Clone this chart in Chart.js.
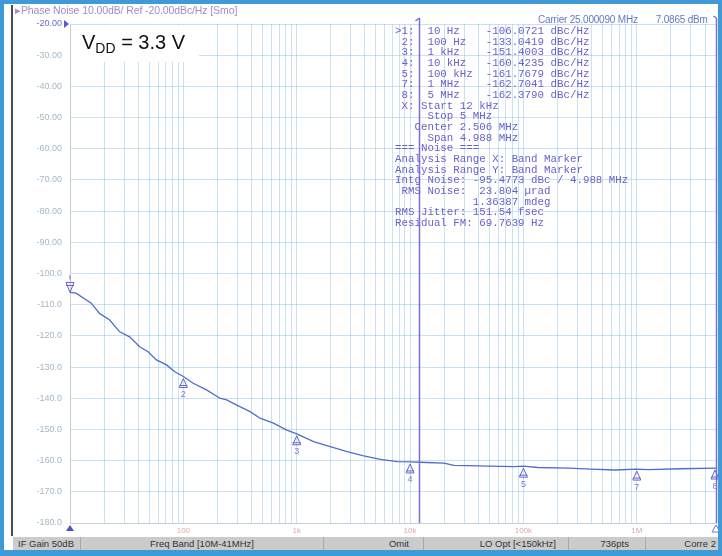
<!DOCTYPE html>
<html>
<head>
<meta charset="utf-8">
<script src="https://cdn.jsdelivr.net/npm/chart.js@4.4.1/dist/chart.umd.min.js"></script>
<style>
  body { margin: 0; width: 722px; height: 556px; position: relative; overflow: hidden; background: #fff; font-family: "Liberation Sans", Arial, sans-serif; }
  #chart { position: absolute; left: 0; top: 0; }
  #frame { position: absolute; left: 0; top: 0; width: 722px; height: 556px; box-sizing: border-box;
           border: 4px solid #3f9ad6; border-top-width: 4px; border-bottom-width: 6px; pointer-events: none; }
  #darkline { position: absolute; left: 11px; top: 5px; width: 2px; height: 531px; background: #4d4d4d; }
  #head { position: absolute; left: 15px; top: 4px; font-size: 10.5px; color: #a28cc6; white-space: pre; letter-spacing: -0.1px; }
  #carrier { position: absolute; left: 538px; top: 14px; font-size: 10px; color: #6378c8; white-space: pre; letter-spacing: -0.2px; }
  #vdd { position: absolute; left: 71px; top: 25px; width: 128px; height: 37px; background: #fff; }
  #vdd span.t { position: absolute; left: 11px; top: 6px; font-size: 20px; color: #111; white-space: nowrap; }
  #vdd sub { font-size: 14px; vertical-align: -4px; }
  #table { position: absolute; left: 395px; top: 26px; font-family: "Liberation Mono", "DejaVu Sans Mono", monospace;
           font-size: 10.8px; line-height: 10.65px; color: #6a62cc; white-space: pre; }
  #status { position: absolute; left: 13px; top: 537px; width: 705px; height: 13px; background: #cbcbcb; display: flex;
            font-size: 9.5px; color: #333; line-height: 13px; }
  #status div { border-right: 1px solid #a9a9a9; box-sizing: border-box; white-space: nowrap; overflow: hidden; }
</style>
</head>
<body>
<canvas id="chart" width="722" height="556"></canvas>
<div id="darkline"></div>
<div id="head">&#9656;Phase Noise 10.00dB/ Ref -20.00dBc/Hz [Smo]</div>
<div id="carrier">Carrier 25.000090 MHz       7.0865 dBm</div>
<div id="vdd"><span class="t">V<sub>DD</sub> = 3.3 V</span></div>
<div id="table"></div>
<div id="status">
  <div style="width:68px;padding-left:5px">IF Gain 50dB</div>
  <div style="width:243px;text-align:center;padding-left:0px">Freq Band [10M-41MHz]</div>
  <div style="width:100px;text-align:right;padding-right:14px">Omit</div>
  <div style="width:145px;text-align:right;padding-right:12px">LO Opt [&lt;150kHz]</div>
  <div style="width:77px;text-align:right;padding-right:16px">736pts</div>
  <div style="width:72px;text-align:right;padding-right:2px;border-right:none">Corre 2</div>
</div>
<div id="frame"></div>
<script>
// trace (Hz, dBc/Hz)
const freqHz = [10, 11.3, 15.4, 18.2, 22.4, 27.4, 33.6, 41.2, 48.8, 57.9, 71, 84, 100, 122, 160, 210, 241, 296,
                388, 475, 623, 819, 1000, 1409, 1978, 2780, 3900, 5480, 7700, 10000, 14000, 19900, 24400, 40000,
                83000, 100000, 134000, 250000, 396000, 637000, 1000000, 1260000, 2480000, 5000000];
const noiseDb = [-106.07, -106.3, -109.5, -112.8, -114.9, -118.7, -120.3, -123.5, -125.1, -127.7, -129.3, -131.5, -133.04,
                 -135.2, -137.3, -140.0, -140.5, -142.2, -144.3, -146.4, -148.0, -150.2, -151.4, -153.9, -155.5, -157.1,
                 -158.5, -159.6, -160.3, -160.42, -160.6, -160.8, -161.5, -161.7, -161.9, -161.77, -162.2, -162.4,
                 -162.7, -163.0, -162.7, -162.9, -162.6, -162.38];

// markers
const markerIds  = ['1', '2', '3', '4', '5', '7', '8'];
const markerFreq = [10, 100, 1000, 10000, 100000, 1000000, 5000000];
const markerText = ['10 Hz', '100 Hz', '1 kHz', '10 kHz', '100 kHz', '1 MHz', '5 MHz'];
const markerVal  = [-106.0721, -133.0419, -151.4003, -160.4235, -161.7679, -162.7041, -162.3790];

const bandStart = 12000, bandStop = 5000000;
const refLevel = -20;
const decadeLabels = { 100: '100', 1000: '1k', 10000: '10k', 100000: '100k', 1000000: '1M' };

const extraLines = [
  ' X: Start 12 kHz',
  '     Stop 5 MHz',
  '   Center 2.506 MHz',
  '     Span 4.988 MHz',
  '=== Noise ===',
  'Analysis Range X: Band Marker',
  'Analysis Range Y: Band Marker',
  'Intg Noise: -95.4773 dBc / 4.988 MHz',
  ' RMS Noise:  23.804 \u00b5rad',
  '            1.36387 mdeg',
  'RMS Jitter: 151.54 fsec',
  'Residual FM: 69.7639 Hz'
];

let rows = markerIds.map((id, i) => {
  let head = (i === 0 ? '>' : ' ') + id + ':  ' + markerText[i];
  return head.padEnd(14, ' ') + markerVal[i].toFixed(4) + ' dBc/Hz';
});
document.getElementById('table').textContent = rows.concat(extraLines).join('\n');

const MARK = '#6462cc';

const overlay = {
  id: 'overlay',
  afterDatasetsDraw(chart) {
    const c = chart.ctx, xs = chart.scales.x, ys = chart.scales.y;
    const top = chart.chartArea.top, bot = chart.chartArea.bottom;
    c.save();

    // band marker lines
    c.strokeStyle = '#7472d6';
    c.lineWidth = 1.5;
    [bandStart, bandStop].forEach((f, i) => {
      let x = Math.round(xs.getPixelForValue(f)) + 0.5;
      if (i === 1) x = Math.min(x, 716.5);
      c.beginPath(); c.moveTo(x, top - 6); c.lineTo(x, bot); c.stroke();
      c.beginPath();
      if (i === 0) { c.moveTo(x, top - 6); c.lineTo(x - 4, top - 3); }
      else { c.moveTo(x, top - 6); c.lineTo(x - 3, top - 8); }
      c.stroke();
    });

    // trace markers
    c.lineWidth = 1;
    c.strokeStyle = MARK;
    c.fillStyle = '#7c7ad2';
    c.font = '9px "Liberation Sans", Arial';
    c.textAlign = 'center';
    c.textBaseline = 'middle';
    markerIds.forEach((id, i) => {
      let x = xs.getPixelForValue(markerFreq[i]);
      let y = ys.getPixelForValue(markerVal[i]);
      if (x > 715) x = 715;
      c.beginPath();
      if (i === 0) {
        c.moveTo(x, y); c.lineTo(x - 4, y - 10); c.lineTo(x + 4, y - 10); c.closePath(); c.stroke();
        c.beginPath(); c.moveTo(x - 4, y - 7); c.lineTo(x + 4, y - 7); c.stroke();
        c.beginPath(); c.moveTo(x, y - 17); c.lineTo(x, y - 13); c.stroke();
      } else {
        c.moveTo(x, y + 2); c.lineTo(x - 4, y + 11); c.lineTo(x + 4, y + 11); c.closePath(); c.stroke();
        c.beginPath(); c.moveTo(x - 4, y + 9); c.lineTo(x + 4, y + 9); c.stroke();
        c.fillText(id, x, y + 18);
      }
    });

    // reference level arrow
    let yr = ys.getPixelForValue(refLevel);
    c.fillStyle = '#5a58d0';
    c.beginPath(); c.moveTo(64, yr - 4); c.lineTo(69, yr); c.lineTo(64, yr + 4); c.closePath(); c.fill();

    // start / stop flags under the x axis
    let x0 = xs.getPixelForValue(xs.min), x1 = Math.min(xs.getPixelForValue(xs.max), 716);
    c.fillStyle = '#4b4fd0';
    c.beginPath(); c.moveTo(x0, bot + 2); c.lineTo(x0 - 4, bot + 8); c.lineTo(x0 + 4, bot + 8); c.closePath(); c.fill();
    c.strokeStyle = '#6a7ad8';
    c.beginPath(); c.moveTo(x1, bot + 2); c.lineTo(x1 - 4, bot + 9); c.lineTo(x1 + 4, bot + 9); c.closePath(); c.stroke();

    c.restore();
  }
};

const ctx = document.getElementById('chart').getContext('2d');

const chart = new Chart(ctx, {
  type: 'line',
  data: {
    datasets: [{
      data: freqHz.map((f, i) => ({ x: f, y: noiseDb[i] })),
      borderColor: '#4f6dcc',
      borderWidth: 1.3,
      pointRadius: 0,
      tension: 0
    }]
  },
  options: {
    responsive: false,
    animation: false,
    devicePixelRatio: 1,
    layout: { padding: { left: 14, right: 6, top: 24, bottom: 20 } },
    plugins: { legend: { display: false }, tooltip: { enabled: false } },
    scales: {
      x: {
        type: 'logarithmic',
        min: 10,
        max: 5000000,
        afterFit: s => { s.height = 13; },
        afterBuildTicks: s => {
          let t = [];
          for (let d = 10; d <= 1000000; d *= 10) {
            for (let m = 1; m <= 9; m++) {
              if (d * m <= 5000000) t.push({ value: d * m });
            }
          }
          t.push({ value: 5000000 });
          s.ticks = t;
        },
        grid: { color: 'rgba(150,196,232,0.5)', lineWidth: 1, drawTicks: false },
        border: { color: '#c6cfd8' },
        ticks: {
          autoSkip: false,
          maxRotation: 0,
          padding: 3,
          color: '#dcaaa6',
          font: { size: 8, family: 'Liberation Sans' },
          callback: v => decadeLabels[v] || ''
        }
      },
      y: {
        min: -180,
        max: -20,
        afterFit: s => { s.width = 56; },
        grid: { color: 'rgba(150,196,232,0.5)', lineWidth: 1, drawTicks: false },
        border: { color: '#c6cfd8' },
        ticks: {
          stepSize: 10,
          padding: 8,
          color: c => c.tick && c.tick.value === refLevel ? '#6a6ad6' : '#a4b6c8',
          font: { size: 9, family: 'Liberation Sans' },
          callback: v => v > -100 ? v.toFixed(2) : v.toFixed(1)
        }
      }
    }
  },
  plugins: [overlay]
});
</script>
</body>
</html>
